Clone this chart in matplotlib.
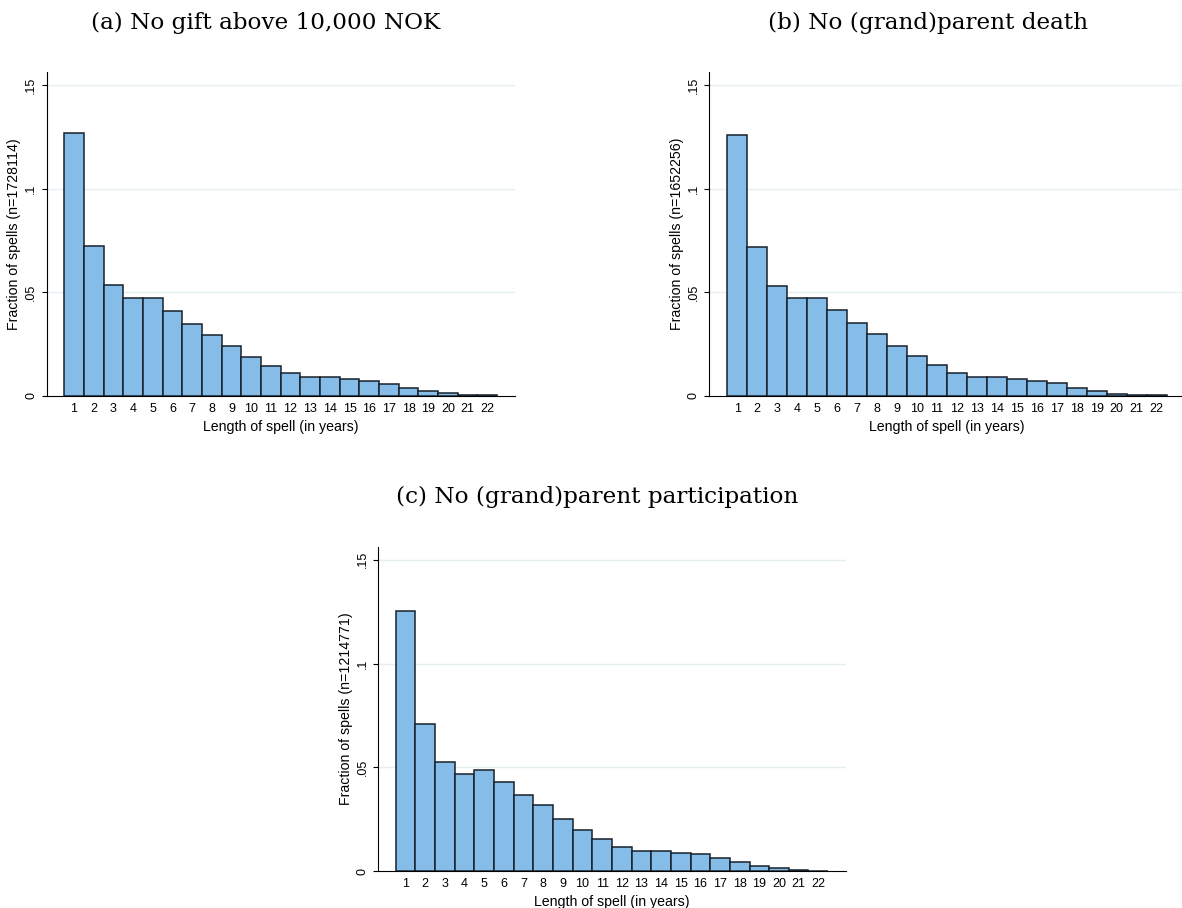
import matplotlib
matplotlib.use("Agg")
import matplotlib.pyplot as plt

plt.rcParams['font.family'] = ['Liberation Sans', 'DejaVu Sans']

# spell lengths 1..22
years = list(range(1, 23))

# (a) no gift above 10,000 NOK
frac_a = [0.1270, 0.0724, 0.0536, 0.0472, 0.0473, 0.0410, 0.0346, 0.0295,
          0.0238, 0.0188, 0.0145, 0.0109, 0.0092, 0.0090, 0.0080, 0.0071,
          0.0058, 0.0039, 0.0023, 0.0011, 0.0003, 0.0002]
# (b) no (grand)parent death
frac_b = [0.1259, 0.0716, 0.0531, 0.0470, 0.0473, 0.0412, 0.0349, 0.0299,
          0.0241, 0.0190, 0.0146, 0.0111, 0.0092, 0.0090, 0.0082, 0.0072,
          0.0060, 0.0039, 0.0023, 0.0010, 0.0002, 0.0002]
# (c) no (grand)parent participation
frac_c = [0.1251, 0.0709, 0.0524, 0.0469, 0.0490, 0.0431, 0.0365, 0.0317,
          0.0254, 0.0199, 0.0154, 0.0116, 0.0096, 0.0096, 0.0087, 0.0082,
          0.0063, 0.0045, 0.0027, 0.0014, 0.0005, 0.0002]

titles = ["(a) No gift above 10,000 NOK",
          "(b) No (grand)parent death",
          "(c) No (grand)parent participation"]
n_obs = [1728114, 1652256, 1214771]

ytick_vals = [0, 0.05, 0.1, 0.15]
ytick_labels = ["0", ".05", ".1", ".15"]

W, H = 1182, 908
fig = plt.figure(figsize=(W / 100, H / 100), dpi=100)

# panel boxes in pixels: left, right, top, bottom (y=0 line)
boxes = [(46.7, 515.0, 72.0, 395.7),
         (709.3, 1184.8, 72.0, 395.7),
         (378.3, 846.0, 546.7, 871.3)]
title_pos = [(265.5, 23), (927.5, 23), (596.7, 497)]

bar_color = "#85BDE8"
edge_color = "#17212b"
grid_color = "#E6EFF1"

for data, ttl, n, box, tp in zip([frac_a, frac_b, frac_c], titles, n_obs,
                                 boxes, title_pos):
    l, r, t, b = box
    ax = fig.add_axes([l / W, 1 - b / H, (r - l) / W, (b - t) / H])
    ax.bar(years, data, width=1.0, color=bar_color, edgecolor=edge_color,
           linewidth=1.1, zorder=3)
    ax.set_xlim(-0.39, 23.41)
    ax.set_ylim(0, 0.1563)
    ax.set_yticks(ytick_vals)
    ax.set_yticklabels(ytick_labels, rotation=90, va="center")
    ax.set_xticks(years)
    ax.set_xticklabels([str(y) for y in years])
    ax.tick_params(axis="x", length=0, pad=5, labelsize=9)
    ax.tick_params(axis="y", length=3.6, width=0.8, pad=3.2, labelsize=9)
    for yv in ytick_vals[1:]:
        ax.axhline(yv, color=grid_color, linewidth=1.0, zorder=1)
    for s in ["top", "right"]:
        ax.spines[s].set_visible(False)
    ax.spines["left"].set_linewidth(0.8)
    ax.spines["bottom"].set_linewidth(0.8)
    ax.set_xlabel("Length of spell (in years)", fontsize=10.2, labelpad=3.5)
    ax.set_ylabel("Fraction of spells (n=%d)" % n, fontsize=10.2, labelpad=3)
    fig.text(tp[0] / W, 1 - tp[1] / H, ttl, ha="center", va="center",
             family="DejaVu Serif", fontsize=16.7)

fig.savefig("out.png", dpi=100)
